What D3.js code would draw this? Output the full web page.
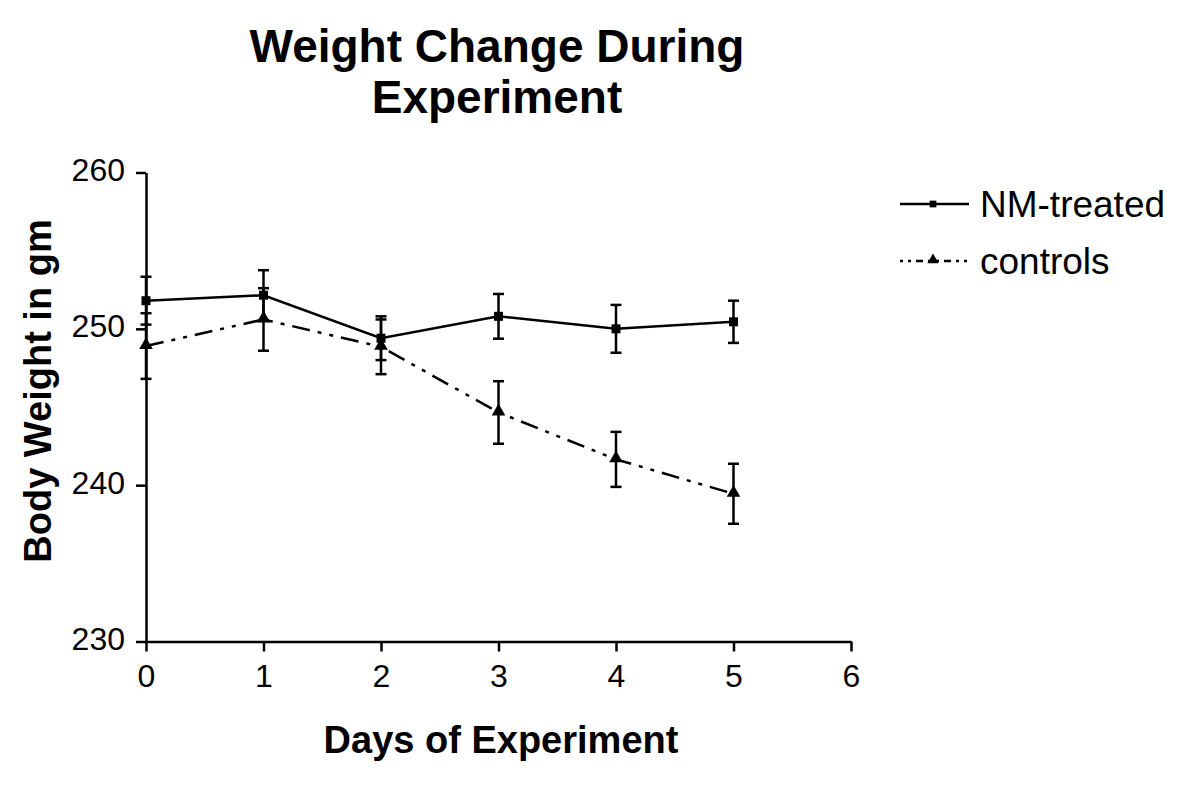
<!DOCTYPE html>
<html>
<head>
<meta charset="utf-8">
<script src="https://cdn.jsdelivr.net/npm/d3@7"></script>
<style>
  html, body { margin: 0; padding: 0; background: #fff; }
  svg { display: block; font-family: "Liberation Sans", Arial, sans-serif; }
</style>
</head>
<body>
<svg id="chart" width="1200" height="785"></svg>
<script>
// ---- data ----
const days = [0, 1, 2, 3, 4, 5];
const nmMean = [251.8, 252.15, 249.4, 250.8, 250.0, 250.45];
const nmSem = [1.53, 1.6, 1.4, 1.43, 1.53, 1.35];
const ctrlMean = [248.9, 250.6, 248.85, 244.65, 241.65, 239.45];
const ctrlSem = [2.1, 2.0, 1.75, 2.0, 1.76, 1.92];
const xTicks = [0, 1, 2, 3, 4, 5, 6];
const yTicks = [230, 240, 250, 260];
const seriesNames = ["NM-treated", "controls"];
const titleLines = ["Weight Change During", "Experiment"];
const xLabel = "Days of Experiment";
const yLabel = "Body Weight in gm";

// ---- layout ----
const svg = d3.select("#chart");
const x = d3.scaleLinear().domain([0, 6]).range([146, 851]);
const y = d3.scaleLinear().domain([230, 260]).range([641.5, 172.5]);

// axes
const xAxis = d3.axisBottom(x).tickValues(xTicks).tickSize(10).tickSizeOuter(0).tickPadding(10).tickFormat(d3.format("d"));
const yAxis = d3.axisLeft(y).tickValues(yTicks).tickSize(10).tickSizeOuter(0).tickPadding(11).tickFormat(d3.format("d"));

const gx = svg.append("g").attr("transform", `translate(0,${y(230)})`).call(xAxis);
const gy = svg.append("g").attr("transform", `translate(${x(0)},0)`).call(yAxis);
[gx, gy].forEach(g => {
  g.select(".domain").attr("stroke", "#000").attr("stroke-width", 2.5);
  g.selectAll(".tick line").attr("stroke", "#000").attr("stroke-width", 2.5);
  g.selectAll(".tick text").attr("fill", "#000").style("font-size", "32px")
    .style("font-family", "'Liberation Sans', Arial, sans-serif");
});
gy.selectAll(".tick text").attr("dy", "0.25em");
gx.selectAll(".tick text").attr("dy", "0.8em");

// data series
const nm = days.map((d, i) => ({ d, m: nmMean[i], s: nmSem[i] }));
const ctrl = days.map((d, i) => ({ d, m: ctrlMean[i], s: ctrlSem[i] }));

const line = d3.line().x(p => x(p.d)).y(p => y(p.m));

function errorBars(data) {
  const g = svg.append("g").attr("stroke", "#000").attr("stroke-width", 2.5);
  g.selectAll("line.v").data(data).join("line")
    .attr("x1", p => x(p.d)).attr("x2", p => x(p.d))
    .attr("y1", p => y(p.m + p.s)).attr("y2", p => y(p.m - p.s));
  g.selectAll("line.t").data(data).join("line")
    .attr("x1", p => x(p.d) - 5.5).attr("x2", p => x(p.d) + 5.5)
    .attr("y1", p => y(p.m + p.s)).attr("y2", p => y(p.m + p.s));
  g.selectAll("line.b").data(data).join("line")
    .attr("x1", p => x(p.d) - 5.5).attr("x2", p => x(p.d) + 5.5)
    .attr("y1", p => y(p.m - p.s)).attr("y2", p => y(p.m - p.s));
}

errorBars(nm);
errorBars(ctrl);

svg.append("path").datum(nm).attr("d", line)
  .attr("fill", "none").attr("stroke", "#000").attr("stroke-width", 2.5);
svg.append("path").datum(ctrl).attr("d", line)
  .attr("fill", "none").attr("stroke", "#000").attr("stroke-width", 2.5)
  .attr("stroke-dasharray", "18,8,4,8,4,8");

const sq = d3.symbol().type(d3.symbolSquare).size(81);
const tri = d3.symbol().type(d3.symbolTriangle).size(80);

svg.append("g").selectAll("path").data(nm).join("path")
  .attr("d", sq).attr("transform", p => `translate(${x(p.d)},${y(p.m)})`).attr("fill", "#000");
svg.append("g").selectAll("path").data(ctrl).join("path")
  .attr("d", tri).attr("transform", p => `translate(${x(p.d)},${y(p.m) - 1})`).attr("fill", "#000");

// legend
const legend = svg.append("g");
const legY = [204, 261];
legend.append("line").attr("x1", 900).attr("x2", 969).attr("y1", legY[0]).attr("y2", legY[0])
  .attr("stroke", "#000").attr("stroke-width", 2.5);
legend.append("path").attr("d", d3.symbol().type(d3.symbolSquare).size(45)).attr("transform", `translate(933,${legY[0]})`);
legend.append("line").attr("x1", 900).attr("x2", 969).attr("y1", legY[1]).attr("y2", legY[1])
  .attr("stroke", "#000").attr("stroke-width", 2.5).attr("stroke-dasharray", "3,5,3,5,7,5");
legend.append("path").attr("d", d3.symbol().type(d3.symbolTriangle).size(55)).attr("transform", `translate(933,${legY[1] - 1})`);
legend.selectAll("text").data(seriesNames).join("text")
  .attr("x", 980).attr("y", (d, i) => legY[i] + 13)
  .style("font-size", "37px").attr("fill", "#000").text(d => d);

// title
svg.append("text").attr("text-anchor", "middle").attr("x", 497)
  .style("font-size", "46px").style("font-weight", "bold")
  .selectAll("tspan").data(titleLines).join("tspan")
  .attr("x", 497).attr("y", (d, i) => 62 + i * 51).text(d => d);

// axis labels
svg.append("text").attr("text-anchor", "middle").attr("x", 501).attr("y", 753)
  .style("font-size", "38px").style("font-weight", "bold").text(xLabel);
svg.append("text").attr("text-anchor", "middle")
  .attr("transform", "translate(51,391) rotate(-90)")
  .style("font-size", "38px").style("font-weight", "bold").text(yLabel);
</script>
</body>
</html>
